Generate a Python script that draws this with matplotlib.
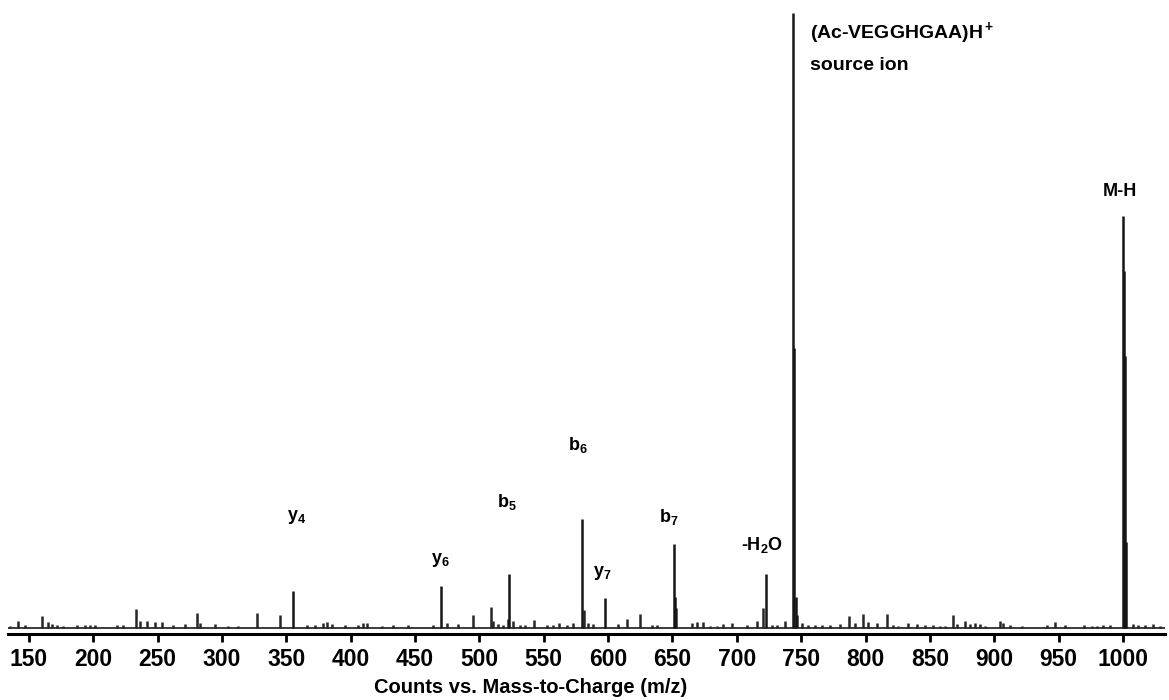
import numpy as np
import matplotlib.pyplot as plt

plt.rcParams['font.family'] = ['Liberation Sans', 'DejaVu Sans']
plt.rcParams['font.weight'] = 'bold'
plt.rcParams['mathtext.fontset'] = 'custom'
plt.rcParams['mathtext.rm'] = 'Liberation Sans:bold'
plt.rcParams['mathtext.it'] = 'Liberation Sans:bold'
plt.rcParams['mathtext.bf'] = 'Liberation Sans:bold'

# major fragment / precursor peaks (m/z, relative abundance %)
major_mz = [355.1, 470.1, 523.0, 579.7, 597.6, 651.2, 652.2, 722.6,
            743.6, 744.6, 745.6, 1000.0, 1000.9, 1001.8, 1002.7]
major_int = [6.0, 6.8, 8.8, 17.7, 4.9, 13.7, 5.0, 8.8,
             100.0, 45.5, 5.0, 67.0, 58.0, 44.2, 14.0]

# small background peaks
minor_mz = [135.2, 141.5, 146.9, 160.1, 164.8, 167.9, 171.8, 176.4, 187.3, 193.5,
            197.4, 201.3, 218.4, 223.0, 233.1, 236.2, 241.7, 247.9, 253.3, 261.9,
            271.2, 280.5, 282.9, 294.5, 304.6, 312.4, 327.2, 345.0, 366.0, 372.2,
            378.4, 381.5, 385.4, 395.5, 405.6, 409.5, 412.6, 424.3, 432.8, 444.5,
            463.9, 474.8, 483.3, 495.0, 509.0, 510.5, 514.4, 518.3, 522.2, 526.1,
            531.5, 535.4, 542.4, 552.5, 557.2, 561.8, 568.0, 572.7, 581.2, 584.3,
            588.2, 607.7, 614.7, 624.8, 634.1, 638.0, 652.7, 665.2, 669.0, 673.7,
            679.1, 684.6, 689.2, 696.2, 707.9, 715.7, 720.3, 727.3, 731.2, 737.4,
            746.7, 750.6, 755.3, 760.7, 766.2, 772.4, 780.1, 787.1, 791.8, 798.0,
            801.9, 808.9, 816.7, 821.3, 825.2, 833.0, 840.0, 846.2, 852.4, 857.8,
            861.7, 868.0, 871.1, 877.3, 881.2, 885.0, 888.9, 892.8, 904.5, 906.8,
            912.2, 921.6, 941.0, 947.2, 955.0, 969.8, 976.0, 979.8, 984.5, 989.9,
            1007.8, 1011.7, 1017.1, 1023.3, 1028.8]
minor_int = [0.3, 1.1, 0.5, 2.0, 1.0, 0.65, 0.5, 0.3, 0.5, 0.5,
             0.5, 0.5, 0.5, 0.5, 3.1, 1.1, 1.1, 1.0, 1.0, 0.5,
             0.65, 2.4, 0.8, 0.65, 0.3, 0.3, 2.4, 2.1, 0.5, 0.5,
             0.8, 1.0, 0.65, 0.5, 0.5, 0.8, 0.8, 0.3, 0.5, 0.5,
             0.5, 0.8, 0.65, 2.1, 3.4, 1.1, 0.65, 0.5, 1.5, 1.1,
             0.5, 0.5, 1.3, 0.5, 0.5, 0.8, 0.5, 0.8, 2.9, 0.8,
             0.65, 0.65, 1.5, 2.3, 0.5, 0.5, 3.3, 0.8, 1.0, 1.0,
             0.3, 0.3, 0.65, 0.8, 0.5, 1.1, 3.3, 0.5, 0.5, 1.1,
             2.1, 0.8, 0.5, 0.5, 0.5, 0.5, 0.65, 2.0, 0.8, 2.3,
             1.0, 0.8, 2.3, 0.5, 0.3, 0.8, 0.65, 0.5, 0.5, 0.3,
             0.3, 2.1, 0.65, 1.1, 0.65, 0.8, 0.65, 0.3, 1.1, 0.8,
             0.5, 0.3, 0.5, 1.0, 0.5, 0.5, 0.3, 0.3, 0.5, 0.5,
             0.65, 0.5, 0.5, 0.65, 0.3]

# peak annotations: text, m/z, height
ann_text = [r'y$_4$', r'y$_6$', r'b$_5$', r'b$_6$', r'y$_7$', r'b$_7$',
            r'-H$_2$O', 'M-H']
ann_mz = [358.2, 469.3, 521.4, 576.6, 595.2, 647.3, 719.5, 997.7]
ann_y = [18.0, 11.0, 20.5, 29.8, 8.9, 18.0, 13.5, 70.9]

xticks = np.arange(150, 1001, 50)

fig = plt.figure(figsize=(11.69, 7.0), dpi=100)
ax = fig.add_axes([8 / 1169, 66 / 700, 1157 / 1169, 634 / 700])

ax.vlines(minor_mz, 0, minor_int, color='#262626', linewidth=1.8)
ax.vlines(major_mz, 0, major_int, color='#161616', linewidth=1.8)
ax.axhline(0, color='#3c3c3c', linewidth=1.4, zorder=1)

for txt, x, y in zip(ann_text, ann_mz, ann_y):
    ax.text(x, y, txt, ha='center', va='center', fontsize=13, fontweight='bold')

ax.text(756.9, 96.7, r'(Ac-VEGGHGAA)H$^+$', ha='left', va='center',
        fontsize=14, fontweight='bold')
ax.text(756.9, 91.5, 'source ion', ha='left', va='center',
        fontsize=14, fontweight='bold')

ax.set_xlim(133.7, 1032.7)
ax.set_ylim(-1.0, 102.1)
ax.set_xticks(xticks)
ax.set_xticklabels([str(t) for t in xticks], fontsize=16.5, fontweight='bold')
ax.tick_params(axis='x', direction='out', length=6, width=2, pad=4)
ax.set_yticks([])
for side in ['top', 'left', 'right']:
    ax.spines[side].set_visible(False)
ax.spines['bottom'].set_linewidth(2.2)

ax.set_xlabel('Counts vs. Mass-to-Charge (m/z)', fontsize=14.5, fontweight='bold',
              labelpad=0, va='center')
ax.xaxis.set_label_coords(0.452, -0.085)

fig.savefig('out.png', dpi=100)
